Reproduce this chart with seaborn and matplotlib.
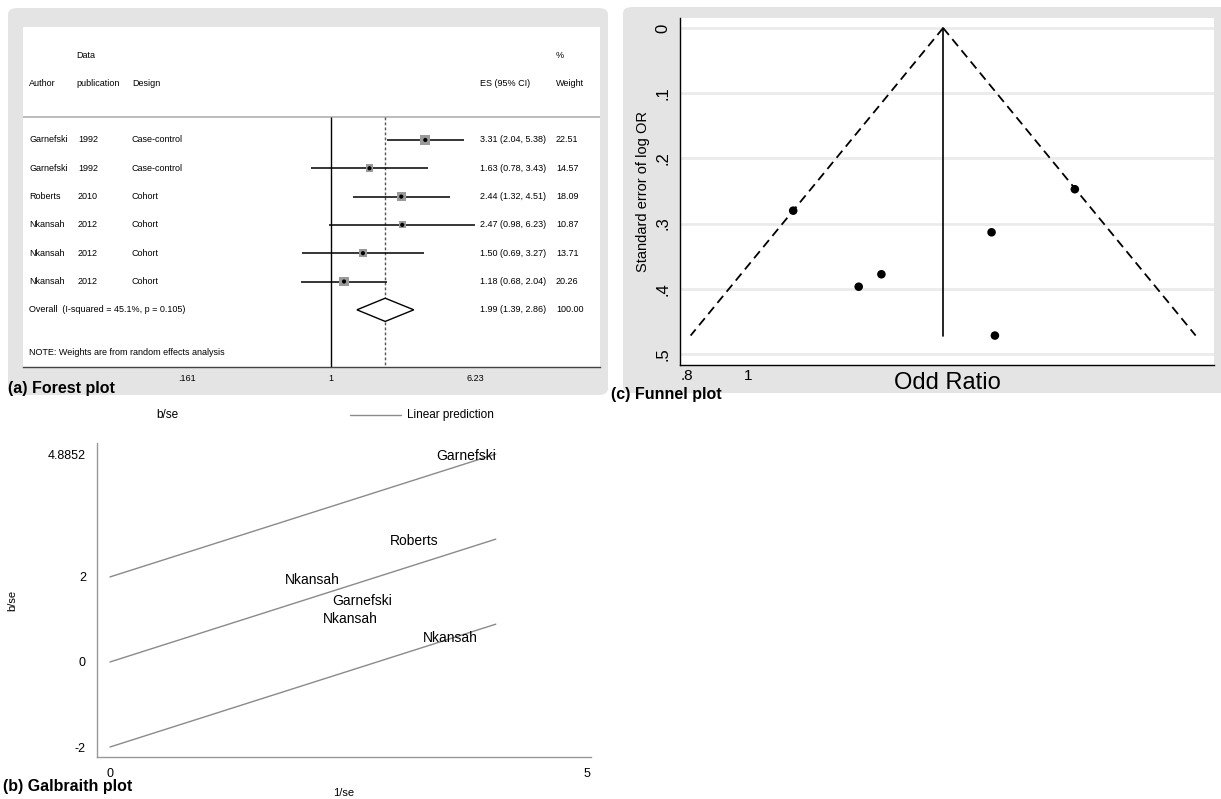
import numpy as np
import pandas as pd
import matplotlib
matplotlib.use('Agg')
import matplotlib.pyplot as plt
import seaborn as sns
from matplotlib.patches import FancyBboxPatch, Polygon
from matplotlib.lines import Line2D
from matplotlib.ticker import NullLocator

# study data
authors = ['Garnefski', 'Garnefski', 'Roberts', 'Nkansah', 'Nkansah', 'Nkansah']
years = ['1992', '1992', '2010', '2012', '2012', '2012']
designs = ['Case-control', 'Case-control', 'Cohort', 'Cohort', 'Cohort', 'Cohort']
es = [3.31, 1.63, 2.44, 2.47, 1.50, 1.18]
ci_low = [2.04, 0.78, 1.32, 0.98, 0.69, 0.68]
ci_high = [5.38, 3.43, 4.51, 6.23, 3.27, 2.04]
weights = [22.51, 14.57, 18.09, 10.87, 13.71, 20.26]

overall_es = 1.99
overall_low = 1.39
overall_high = 2.86
overall_weight = 100.00
i_squared = 45.1
p_het = 0.105

forest_ticks = [0.161, 1, 6.23]
forest_ticklabels = ['.161', '1', '6.23']
funnel_xticks = [0.8, 1]
funnel_xticklabels = ['.8', '1']
funnel_yticks = [0, 0.1, 0.2, 0.3, 0.4, 0.5]
funnel_yticklabels = ['0', '.1', '.2', '.3', '.4', '.5']
galb_xticks = [0, 5]
galb_yticks = [-2, 0, 2, 4.8852]
galb_yticklabels = ['-2', '0', '2', '4.8852']
# label placement for the galbraith names (alignment, offset in points)
galb_label_ha = ['right', 'center', 'center', 'center', 'center', 'center']
galb_label_dy = [0, 4, 0, 0, 0, -1]

W, H = 1221, 799


def fx(px):
    return px / W


def fy(py):
    return 1 - py / H


def load_data():
    df = pd.DataFrame({'author': authors, 'year': years, 'design': designs,
                       'es': es, 'lo': ci_low, 'hi': ci_high, 'weight': weights})
    df['row'] = np.arange(1, len(df) + 1)
    df['logor'] = np.log(df['es'])
    df['se'] = (np.log(df['hi']) - np.log(df['lo'])) / (2 * 1.96)
    df['prec'] = 1 / df['se']
    df['z'] = df['logor'] / df['se']
    return df


def fixed_effect(df):
    w = 1 / df['se'] ** 2
    return (w * df['logor']).sum() / w.sum()


def add_panel(fig, x0, y0, x1, y1):
    p = FancyBboxPatch((fx(x0), fy(y1)), fx(x1) - fx(x0), fy(y0) - fy(y1),
                       boxstyle='round,pad=0,rounding_size=0.008',
                       transform=fig.transFigure, facecolor='#e4e4e4',
                       edgecolor='none', zorder=-10)
    fig.patches.append(p)


def plot_forest(fig, df):
    ax = fig.add_axes([fx(23), fy(367), fx(600) - fx(23), fy(27) - fy(367)])
    ax.set_facecolor('white')
    ax.set_xscale('log')
    ax.set_xlim(0.02006, 30.4)
    ax.set_ylim(9.02, -2.99)
    for s in ['top', 'right', 'left']:
        ax.spines[s].set_visible(False)
    ax.spines['bottom'].set_color('#444444')
    ax.spines['bottom'].set_linewidth(1)
    ax.set_yticks([])
    ax.set_xticks(forest_ticks)
    ax.set_xticklabels(forest_ticklabels, fontsize=6.5)
    ax.xaxis.set_minor_locator(NullLocator())
    ax.tick_params(axis='x', length=3, color='#444444', pad=2)

    ax.axhline(0.19, color='#b0b0b0', lw=1.2)
    ax.vlines(1, 0.19, 9.02, color='black', lw=1)
    ax.vlines(overall_es, 0.19, 9.02, color='#555555', lw=1, linestyles=(0, (2, 1.6)))

    ax.hlines(df['row'], df['lo'], df['hi'], color='black', lw=1.1, zorder=3)
    sns.scatterplot(data=df, x='es', y='row', size='weight', marker='s',
                    sizes=(10.87 * 2.2, 22.51 * 2.2), color='#9a9a9a',
                    edgecolor='none', legend=False, ax=ax, zorder=4)
    sns.scatterplot(data=df, x='es', y='row', s=9, color='black',
                    edgecolor='none', legend=False, ax=ax, zorder=5)

    oy = len(df) + 1
    ax.add_patch(Polygon([(overall_low, oy), (overall_es, oy - 0.41),
                          (overall_high, oy), (overall_es, oy + 0.41)],
                         closed=True, facecolor='white', edgecolor='black', lw=1, zorder=4))

    tr = ax.get_yaxis_transform()

    def col(px):
        return (px - 23) / 577

    kw = dict(transform=tr, fontsize=6.5, va='center')
    ax.text(col(76), -2, 'Data', **kw)
    ax.text(col(556), -2, '%', **kw)
    ax.text(col(29), -1, 'Author', **kw)
    ax.text(col(76), -1, 'publication', **kw)
    ax.text(col(132), -1, 'Design', **kw)
    ax.text(col(480), -1, 'ES (95% CI)', **kw)
    ax.text(col(556), -1, 'Weight', **kw)
    for _, r in df.iterrows():
        ax.text(col(29), r['row'], r['author'], **kw)
        ax.text(col(78), r['row'], r['year'], **kw)
        ax.text(col(132), r['row'], r['design'], **kw)
        ax.text(col(480), r['row'], f"{r['es']:.2f} ({r['lo']:.2f}, {r['hi']:.2f})", **kw)
        ax.text(col(556), r['row'], f"{r['weight']:.2f}", **kw)
    ax.text(col(29), oy, f'Overall  (I-squared = {i_squared}%, p = {p_het:.3f})', **kw)
    ax.text(col(480), oy, f'{overall_es:.2f} ({overall_low:.2f}, {overall_high:.2f})', **kw)
    ax.text(col(556), oy, f'{overall_weight:.2f}', **kw)
    ax.text(col(29), oy + 1.5, 'NOTE: Weights are from random effects analysis', **kw)
    ax.set_xlabel('')
    ax.set_ylabel('')


def plot_funnel(fig, df, theta):
    ax = fig.add_axes([fx(680), fy(365), fx(1214) - fx(680), fy(18) - fy(365)])
    ax.set_facecolor('white')
    ax.set_xscale('log')
    ax.set_xlim(0.7796, 5.51)
    ax.set_ylim(0.517, -0.0153)
    for s in ['top', 'right']:
        ax.spines[s].set_visible(False)
    for s in ['left', 'bottom']:
        ax.spines[s].set_color('black')
        ax.spines[s].set_linewidth(1)
    ax.set_yticks(funnel_yticks)
    ax.set_yticklabels(funnel_yticklabels, fontsize=12, rotation=90, va='center')
    ax.set_xticks(funnel_xticks)
    ax.set_xticklabels(funnel_xticklabels, fontsize=11)
    ax.xaxis.set_minor_locator(NullLocator())
    ax.tick_params(axis='y', length=4, color='black', pad=3)
    ax.tick_params(axis='x', length=3, color='black', pad=0)
    ax.grid(axis='y', color='#ebebeb', lw=2)
    ax.set_axisbelow(True)

    se_max = df['se'].max()
    se_line = np.array([0, se_max])
    ax.plot(np.exp(theta - 1.96 * se_line), se_line, color='black', lw=1.3, ls=(0, (5, 3)))
    ax.plot(np.exp(theta + 1.96 * se_line), se_line, color='black', lw=1.3, ls=(0, (5, 3)))
    ax.plot([np.exp(theta)] * 2, se_line, color='black', lw=1.2)
    sns.scatterplot(data=df, x='es', y='se', s=38, color='black', edgecolor='none',
                    legend=False, ax=ax, zorder=5)
    ax.set_ylabel('Standard error of log OR', fontsize=10.5, labelpad=4)
    ax.set_xlabel('Odd Ratio', fontsize=17, labelpad=-8)


def plot_galbraith(fig, df, theta):
    ax = fig.add_axes([fx(97), fy(757), fx(591) - fx(97), fy(443) - fy(757)])
    ax.set_facecolor('white')
    ax.set_xlim(-0.136, 5.04)
    ax.set_ylim(-2.235, 5.15)
    for s in ['top', 'right']:
        ax.spines[s].set_visible(False)
    for s in ['left', 'bottom']:
        ax.spines[s].set_color('#999999')
        ax.spines[s].set_linewidth(1)
    ax.set_xticks(galb_xticks)
    ax.set_xticklabels([str(t) for t in galb_xticks], fontsize=9)
    ax.set_yticks(galb_yticks)
    ax.set_yticklabels(galb_yticklabels, fontsize=9)
    ax.tick_params(length=5, color='#999999', pad=3)

    xs = np.array([0, df['prec'].max()])
    for c in [2, 0, -2]:
        sns.lineplot(x=xs, y=theta * xs + c, color='#8a8a8a', lw=1, ax=ax)
    for (_, r), ha, dy in zip(df.iterrows(), galb_label_ha, galb_label_dy):
        ax.annotate(r['author'], (r['prec'], r['z']), xytext=(0, dy),
                    textcoords='offset points', fontsize=10, ha=ha, va='center')
    ax.set_xlabel('1/se', fontsize=8, labelpad=6)
    ax.set_ylabel('b/se', fontsize=8, labelpad=22)

    fig.text(fx(156), fy(415), 'b/se', fontsize=8.5, va='center')
    fig.add_artist(Line2D([fx(350), fx(401)], [fy(415)] * 2, color='#8a8a8a', lw=1))
    fig.text(fx(407), fy(415), 'Linear prediction', fontsize=8.5, va='center')


sns.set_theme(style='white')
plt.rcParams['font.family'] = ['Liberation Sans', 'DejaVu Sans']
plt.rcParams['text.color'] = 'black'
plt.rcParams['axes.labelcolor'] = 'black'
plt.rcParams['xtick.color'] = 'black'
plt.rcParams['ytick.color'] = 'black'

df = load_data()
theta = fixed_effect(df)

fig = plt.figure(figsize=(W / 100, H / 100), dpi=100)
fig.patch.set_facecolor('white')
add_panel(fig, 8, 8, 608, 395)
add_panel(fig, 623, 7, 1235, 393)

plot_forest(fig, df)
plot_funnel(fig, df, theta)
plot_galbraith(fig, df, theta)

fig.text(fx(8), fy(388), '(a) Forest plot', fontsize=11.5, fontweight='bold', va='center')
fig.text(fx(3), fy(787), '(b) Galbraith plot', fontsize=11.5, fontweight='bold', va='center')
fig.text(fx(611), fy(394), '(c) Funnel plot', fontsize=11.5, fontweight='bold', va='center')

fig.savefig('out.png', dpi=100)
